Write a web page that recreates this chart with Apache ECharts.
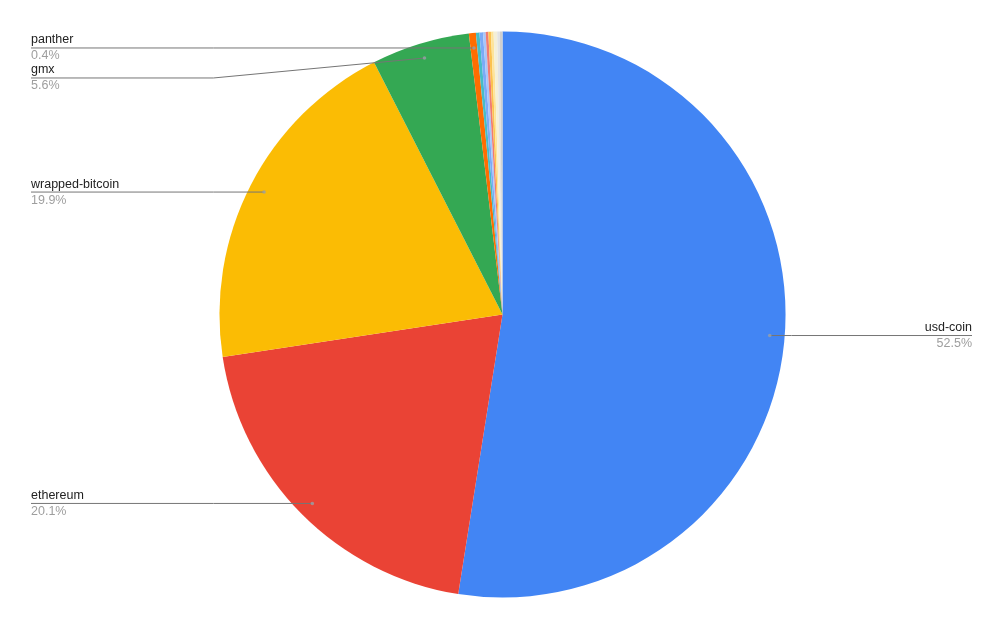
<!DOCTYPE html>
<html>
<head>
<meta charset="utf-8">
<script src="https://cdn.jsdelivr.net/npm/echarts@6/dist/echarts.min.js"></script>
<style>
  html, body { margin: 0; padding: 0; background: #fff; }
  #chart { width: 1005px; height: 629px; }
</style>
</head>
<body>
<div id="chart"></div>
<script>
// token shares (%), clockwise from 12 o'clock
const categories = ['usd-coin', 'ethereum', 'wrapped-bitcoin', 'gmx', 'panther',
    'arbitrum', 'tether', 'dai', 'chainlink', 'uniswap', 'frax', 'magic', 'radiant', 'jones-dao'];
const shares = [52.5, 20.1, 19.9, 5.6, 0.4, 0.2, 0.2, 0.15, 0.15, 0.15, 0.15, 0.2, 0.15, 0.15];
const colors = ['#4285F4', '#EA4335', '#FBBC04', '#34A853', '#FF6D01', '#46BDC6', '#7BAAF7',
    '#A9C6F8', '#F07B72', '#FCC24F', '#FDE49B', '#F4EFD8', '#E3E3E3', '#CFCFCF'];
const labelled = ['usd-coin', 'ethereum', 'wrapped-bitcoin', 'gmx', 'panther'];

const chart = echarts.init(document.getElementById('chart'));
const W = chart.getWidth();
const H = chart.getHeight();
const cx = W / 2, cy = H / 2;
const R = 0.9 * Math.min(W, H) / 2;
const total = shares.reduce((a, b) => a + b, 0);

// work out where each leader line starts and where its label sits
const layout = {};
(function () {
    let cum = 0;
    const sides = { left: [], right: [] };
    shares.forEach((v, i) => {
        const theta = (cum + v / 2) / total * Math.PI * 2;
        cum += v;
        if (labelled.indexOf(categories[i]) < 0) return;
        const dot = [cx + 0.947 * R * Math.sin(theta), cy - 0.947 * R * Math.cos(theta)];
        const side = Math.sin(theta) >= 0 ? 'right' : 'left';
        sides[side].push({ i, dot, side });
    });
    Object.keys(sides).forEach(s => {
        const list = sides[s].sort((a, b) => a.dot[1] - b.dot[1]);
        let prev = -Infinity;
        list.forEach(it => {
            const y = Math.max(it.dot[1], prev + 30);
            prev = y;
            it.lineY = y;
            layout[it.i] = it;
        });
    });
})();

const slices = categories.map((name, i) => ({
    name,
    value: shares[i],
    itemStyle: { color: colors[i] }
}));

// transparent copy on top that carries the labels, so leader lines cross the slices
const overlay = categories.map((name, i) => {
    const show = labelled.indexOf(name) >= 0;
    return { name, value: shares[i], label: { show }, labelLine: { show } };
});

const font = 'Liberation Sans, Arial, sans-serif';

chart.setOption({
    backgroundColor: '#fff',
    tooltip: { trigger: 'item' },
    graphic: Object.keys(layout).map(k => ({
        type: 'circle',
        z: 100,
        silent: true,
        shape: { cx: layout[k].dot[0], cy: layout[k].dot[1], r: 1.8 },
        style: { fill: '#9aa0a6', opacity: 0.8 }
    })),
    series: [{
        type: 'pie',
        z: 2,
        center: ['50%', '50%'],
        radius: '90%',
        startAngle: 90,
        clockwise: true,
        emphasis: { scale: false },
        label: { show: false },
        labelLine: { show: false },
        data: slices
    }, {
        type: 'pie',
        z: 3,
        silent: true,
        tooltip: { show: false },
        center: ['50%', '50%'],
        radius: '90%',
        startAngle: 90,
        clockwise: true,
        percentPrecision: 1,
        avoidLabelOverlap: false,
        emphasis: { disabled: true },
        itemStyle: { color: 'rgba(0,0,0,0)' },
        data: overlay,
        label: {
            position: 'outside',
            formatter: p => '{n|' + p.name + '}\n{p|' + p.percent.toFixed(1) + '%}',
            rich: {
                n: { fontSize: 12.5, color: '#222', lineHeight: 16, fontFamily: font },
                p: { fontSize: 12.5, color: '#9e9e9e', lineHeight: 16, fontFamily: font }
            }
        },
        labelLine: {
            show: true,
            lineStyle: { color: '#757575', width: 1 }
        },
        labelLayout: params => {
            const it = layout[params.dataIndex];
            if (!it) return {};
            const left = it.side === 'left';
            const endX = left ? 31 : W - 33;
            const bendX = left ? cx - R - 6 : cx + R + 6;
            return {
                x: endX,
                y: it.lineY,
                align: left ? 'left' : 'right',
                verticalAlign: 'middle',
                labelLinePoints: [it.dot, [bendX, it.lineY], [endX, it.lineY]]
            };
        }
    }]
});
</script>
</body>
</html>
